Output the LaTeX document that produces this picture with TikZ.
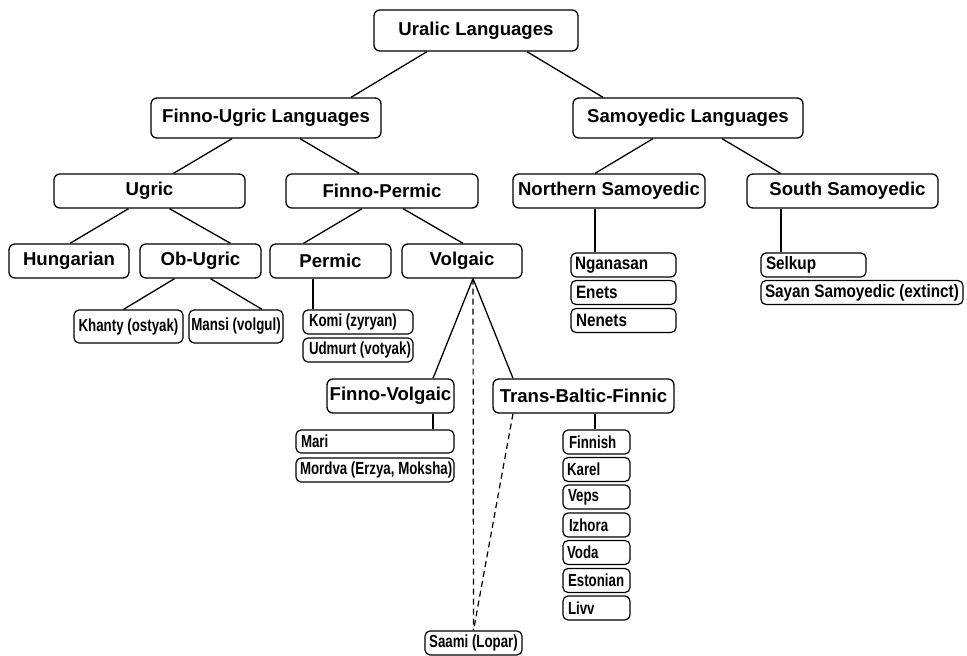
\documentclass[tikz,border=0pt]{standalone}
\usepackage{fontspec}
\setmainfont{Liberation Sans}
\newfontfamily\narrowA[FakeStretch=0.76]{Liberation Sans}
\newfontfamily\narrowB[FakeStretch=0.85]{Liberation Sans}
\usetikzlibrary{calc}
\newcommand\leftbox[2]{\makebox[#1][l]{\hspace*{4pt}#2}}
\tikzset{
  box/.style={draw, rounded corners=6pt, line width=1.3pt, inner sep=0pt, align=center,
    font=\bfseries\fontsize{18.6}{20}\selectfont},
  leafc/.style={draw, rounded corners=5pt, line width=1.2pt, inner sep=0pt, align=center,
    font=\narrowA\bfseries\fontsize{17.5}{18}\selectfont},
  leafs/.style={leafc, font=\narrowB\bfseries\fontsize{18}{18}\selectfont},
  conn/.style={line width=1.3pt},
  dconn/.style={line width=1.2pt, dash pattern=on 6pt off 4pt},
}
\begin{document}
\begin{tikzpicture}[x=1pt, y=-1pt]
\useasboundingbox (0,0) rectangle (967,656);
% top levels
\node[box, minimum width=204pt, minimum height=41pt] (ura) at (476,30.5) {Uralic Languages};
\node[box, minimum width=230pt, minimum height=40pt] (fu) at (266,118) {Finno-Ugric Languages};
\node[box, minimum width=230pt, minimum height=40pt] (sam) at (688,118) {Samoyedic Languages};
% second level
\node[box, minimum width=191pt, minimum height=34pt] (ugr) at (149.5,191) {Ugric};
\node[box, minimum width=192pt, minimum height=34pt] (fp) at (382,191) {Finno-Permic};
\node[box, minimum width=192pt, minimum height=34pt] (ns) at (609,191) {Northern Samoyedic};
\node[box, minimum width=191pt, minimum height=34pt] (ss) at (842.5,191) {\hspace*{10pt}South Samoyedic};
% third level
\node[box, minimum width=120pt, minimum height=34pt] (hun) at (69,261) {Hungarian};
\node[box, minimum width=121pt, minimum height=34pt] (ob) at (200.5,261) {Ob-Ugric};
\node[box, minimum width=121pt, minimum height=34pt] (perm) at (330.5,261) {Permic};
\node[box, minimum width=120pt, minimum height=34pt] (volg) at (462,261) {Volgaic};
% Volgaic children
\node[box, minimum width=127pt, minimum height=34pt] (fv) at (390.5,396) {Finno-Volgaic};
\node[box, minimum width=181pt, minimum height=34pt] (tbf) at (583.5,396) {Trans-Baltic-Finnic};
% leaves
\node[leafc, minimum width=109pt, minimum height=33pt] (kha) at (128.5,326.5) {Khanty (ostyak)};
\node[leafc, minimum width=94pt, minimum height=33pt] (man) at (236,326.5) {Mansi (volgul)};
\node[leafc, minimum height=24pt] (komi) at (358,322) {\leftbox{110pt}{\hspace*{2pt}Komi (zyryan)}};
\node[leafc, minimum height=24pt] (udm) at (358,350) {\leftbox{110pt}{\hspace*{2pt}Udmurt (votyak)}};
\node[leafc, minimum height=23pt] (mari) at (375,441.5) {\leftbox{158pt}{\hspace*{1pt}Mari}};
\node[leafc, minimum height=24pt] (mord) at (375,470) {\leftbox{158pt}{Mordva (Erzya, Moksha)}};
\node[leafc, minimum height=24pt] (fin) at (596.5,442) {\leftbox{67pt}{\hspace*{2pt}Finnish}};
\node[leafc, minimum height=24pt] (kar) at (596.5,469.5) {\leftbox{67pt}{Karel}};
\node[leafc, minimum height=24pt] (veps) at (596.5,497) {\leftbox{67pt}{\hspace*{1pt}Veps}};
\node[leafc, minimum height=24pt] (izh) at (596.5,525) {\leftbox{67pt}{\hspace*{2pt}Izhora}};
\node[leafc, minimum height=24pt] (voda) at (596.5,552.5) {\leftbox{67pt}{Voda}};
\node[leafc, minimum height=24pt] (est) at (596.5,580.5) {\leftbox{67pt}{\hspace*{1pt}Estonian}};
\node[leafc, minimum height=24pt] (livv) at (596.5,608) {\leftbox{67pt}{\hspace*{1pt}Livv}};
\node[leafc, minimum width=97pt, minimum height=24pt] (saami) at (473.5,643) {Saami (Lopar)};
\node[leafs, minimum height=24pt] (ngan) at (623.5,265) {\leftbox{105pt}{Nganasan}};
\node[leafs, minimum height=24pt] (enets) at (623.5,292.5) {\leftbox{105pt}{\hspace*{1pt}Enets}};
\node[leafs, minimum height=24pt] (nen) at (623.5,320.5) {\leftbox{105pt}{\hspace*{1pt}Nenets}};
\node[leafs, minimum height=24pt] (selk) at (813.5,265) {\leftbox{105pt}{\hspace*{1pt}Selkup}};
\node[leafs, minimum height=24pt] (sayan) at (862,292.5) {\leftbox{202pt}{Sayan Samoyedic (extinct)}};
% connectors
\draw[conn] ([xshift=-49pt]ura.south) -- ([xshift=85pt]fu.north);
\draw[conn] ([xshift=51pt]ura.south) -- ([xshift=-85pt]sam.north);
\draw[conn] ([xshift=-34pt]fu.south) -- ([xshift=24pt]ugr.north);
\draw[conn] ([xshift=34pt]fu.south) -- ([xshift=-23pt]fp.north);
\draw[conn] ([xshift=-35pt]sam.south) -- ([xshift=-14pt]ns.north);
\draw[conn] ([xshift=34pt]sam.south) -- ([xshift=-62pt]ss.north);
\draw[conn] ([xshift=-21pt]ugr.south) -- ([xshift=1pt]hun.north);
\draw[conn] ([xshift=20pt]ugr.south) -- ([xshift=30pt]ob.north);
\draw[conn] ([xshift=-20pt]fp.south) -- ([xshift=-27pt]perm.north);
\draw[conn] ([xshift=21pt]fp.south) -- ([xshift=1pt]volg.north);
\draw[conn] ([xshift=-26pt]ob.south) -- ([xshift=-5pt]kha.north);
\draw[conn] ([xshift=10pt]ob.south) -- ([xshift=26pt]man.north);
\draw[conn] ([xshift=-17.5pt]perm.south) -- ([xshift=-45pt]komi.north);
\draw[conn] ([xshift=11pt]volg.south) -- ([xshift=42.5pt]fv.north);
\draw[conn] ([xshift=11pt]volg.south) -- ([xshift=-70.5pt]tbf.north);
\draw[conn] ([xshift=42.5pt]fv.south) -- ([xshift=58pt]mari.north);
\draw[conn] ([xshift=11.5pt]tbf.south) -- ([xshift=-1.5pt]fin.north);
\draw[conn] ([xshift=-14pt]ns.south) -- ([xshift=-28.5pt]ngan.north);
\draw[conn] ([xshift=-61.5pt]ss.south) -- ([xshift=-32.5pt]selk.north);
\draw[dconn] ([xshift=11pt]volg.south) -- (saami.north);
\draw[dconn] ([xshift=-70.5pt]tbf.south) -- (saami.north);
\end{tikzpicture}
\end{document}
